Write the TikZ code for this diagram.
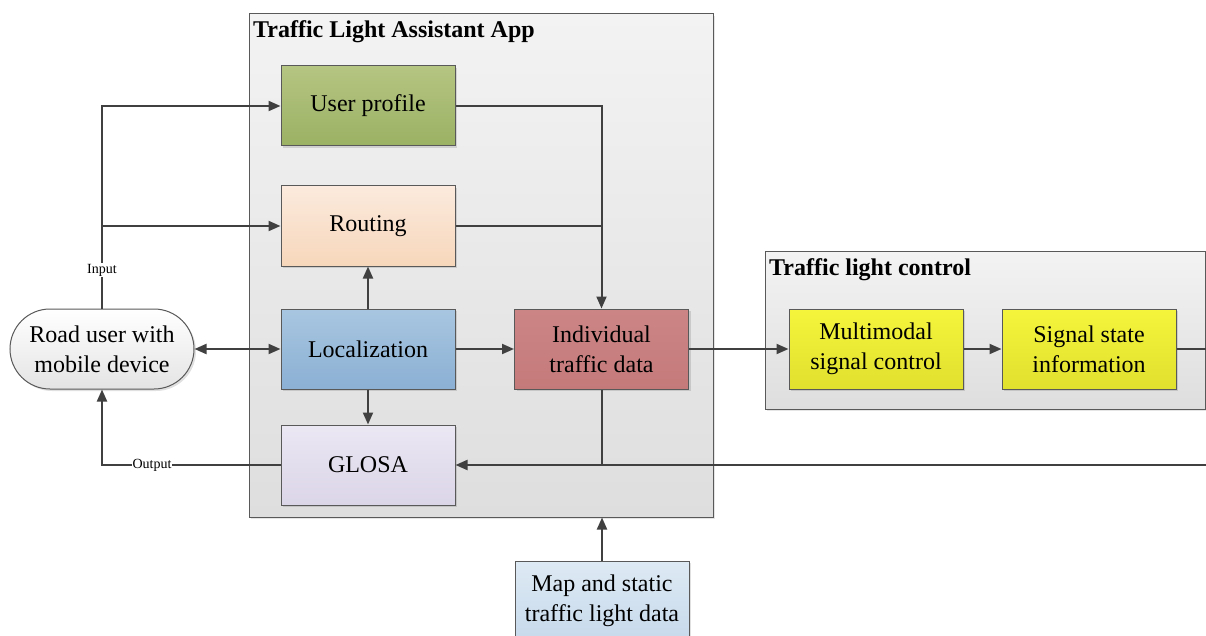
\documentclass[tikz,border=0pt]{standalone}
\usepackage{fontspec}
\setmainfont{LiberationSerif}[Extension=.ttf, UprightFont=*-Regular, BoldFont=*-Bold, ItalicFont=*-Italic, BoldItalicFont=*-BoldItalic]
\usetikzlibrary{arrows.meta,fit,shadows}
\definecolor{linec}{HTML}{404040}
\definecolor{borderc}{HTML}{595959}
\begin{document}
\begin{tikzpicture}[x=1pt,y=-1pt,
  every node/.style={inner sep=0pt},
  box/.style={draw=borderc, line width=1pt, minimum width=174pt, minimum height=80pt,
    align=center, font=\fontsize{24}{30}\selectfont,
    drop shadow={shadow xshift=2pt, shadow yshift=-2pt, fill=black, opacity=0.12}},
  grp/.style={draw=borderc, line width=1pt, top color=grpTop, bottom color=grpBot,
    drop shadow={shadow xshift=2pt, shadow yshift=-2pt, fill=black, opacity=0.10}},
  ttl/.style={anchor=west, font=\fontsize{24}{28}\selectfont\bfseries},
  conn/.style={draw=linec, line width=2pt},
  arr/.style={conn, -{Triangle[length=12pt,width=10pt]}},
  arrb/.style={conn, {Triangle[length=12pt,width=10pt]}-{Triangle[length=12pt,width=10pt]}},
  lbl/.style={fill=white, font=\fontsize{14}{16}\selectfont, inner sep=1pt}
]
\definecolor{grpTop}{HTML}{F3F3F3}
\definecolor{grpBot}{HTML}{DEDEDE}
\useasboundingbox (0,0) rectangle (1206,636);
\fill[white] (0,0) rectangle (1206,636);

% group boxes
\node[grp, fit={(249,14) (713,517)}] (app) {};
\node[ttl] (appt) at (253,32) {Traffic Light Assistant App};
\node[grp, fit={(765,251) (1205,409)}] (tlc) {};
\node[ttl] (tlct) at (769,270) {Traffic light control};

% boxes
\node[box, top color={rgb,255:red,181;green,197;blue,130}, bottom color={rgb,255:red,155;green,177;blue,99}] (up) at (368,106) {User profile};
\node[box, top color={rgb,255:red,251;green,234;blue,221}, bottom color={rgb,255:red,247;green,215;blue,187}] (rout) at (368,226) {Routing};
\node[box, top color={rgb,255:red,168;green,198;blue,224}, bottom color={rgb,255:red,139;green,176;blue,212}] (loc) at (368,349) {Localization};
\node[box, top color={rgb,255:red,235;green,231;blue,243}, bottom color={rgb,255:red,219;green,213;blue,232}] (glosa) at (368,465) {GLOSA};
\node[box, top color={rgb,255:red,204;green,133;blue,133}, bottom color={rgb,255:red,197;green,122;blue,122}] (ind) at (601.5,349) {Individual\\traffic data};
\node[box, top color={rgb,255:red,245;green,245;blue,60}, bottom color={rgb,255:red,224;green,224;blue,46}] (mm) at (876,349) {Multimodal\\signal control};
\node[box, top color={rgb,255:red,245;green,245;blue,60}, bottom color={rgb,255:red,224;green,224;blue,46}] (ss) at (1089,349) {Signal state\\information};
\node[box, top color={rgb,255:red,222;green,234;blue,244}, bottom color={rgb,255:red,198;green,217;blue,235}] (map) at (602,601) {Map and static\\traffic light data};
\node[box, minimum width=184pt, rounded corners=40pt, top color=white, bottom color={rgb,255:red,228;green,228;blue,228}] (road) at (102,349) {Road user with\\mobile device};

% external ends
\coordinate (sigout) at (1207,349);
\coordinate (sigin) at (1207,465);

% connectors
\draw[arr] (road.north) |- (up.west);
\draw[arr] (road.north |- rout.west) -- (rout.west);
\node[lbl] (inl) at (102,270) {Input};
\draw[arr] (glosa.west) -| (road.south) node[lbl, pos=0.36] (outl) {Output};
\draw[arrb] (road.east) -- (loc.west);
\draw[arr] (loc.east) -- (ind.west);
\draw[arr] (loc.north) -- (rout.south);
\draw[arr] (loc.south) -- (glosa.north);
\draw[arr] (up.east) -| (ind.north);
\draw[conn] (rout.east) -- (rout.east -| ind.north);
\draw[arr] (ind.south) |- (glosa.east);
\draw[conn] (sigin) -- (ind.south |- glosa.east);
\draw[arr] (ind.east) -- (mm.west);
\draw[arr] (mm.east) -- (ss.west);
\draw[conn] (ss.east) -- (sigout);
\draw[arr] (map.north) -- (map.north |- app.south);
\end{tikzpicture}
\end{document}
